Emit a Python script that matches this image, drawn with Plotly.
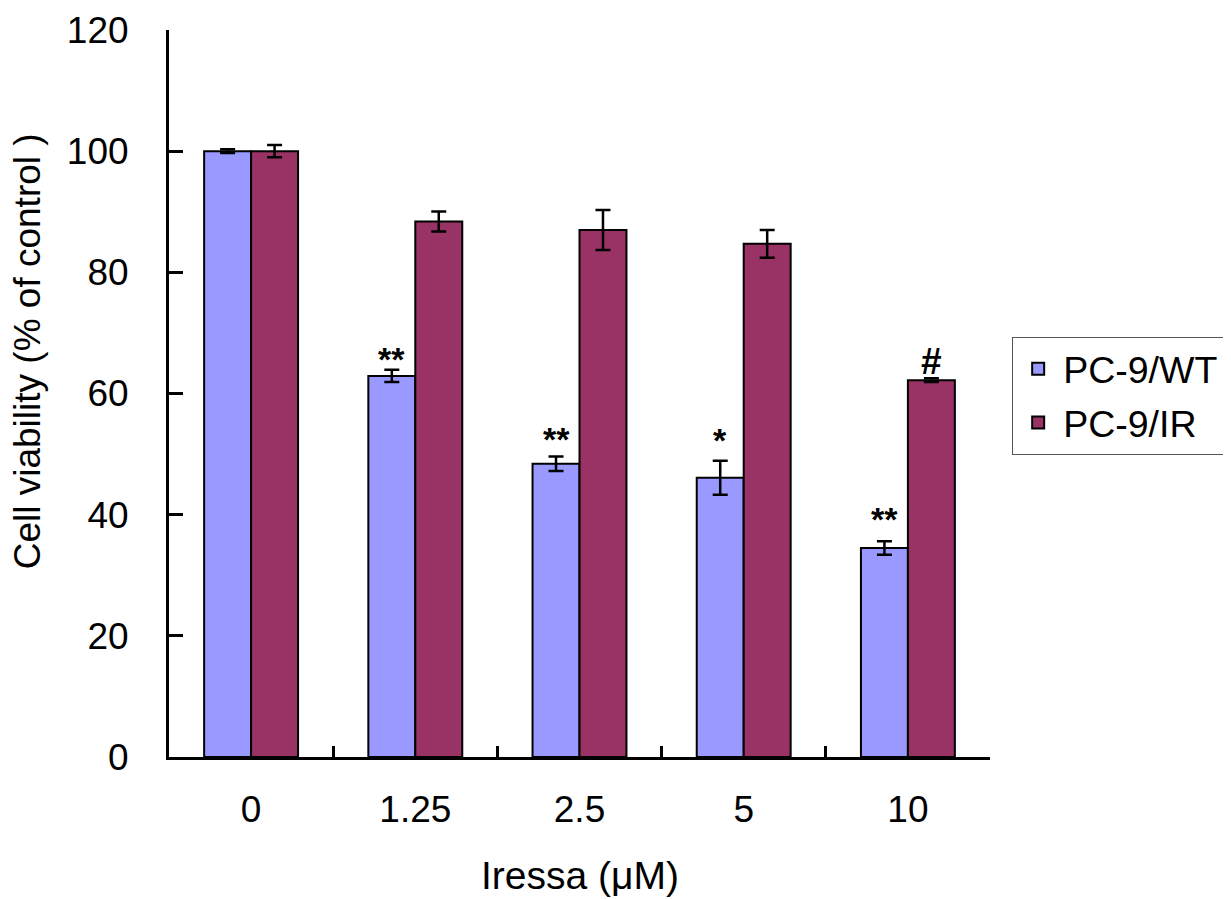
import plotly.graph_objects as go

# ---- data ----
doses = ["0", "1.25", "2.5", "5", "10"]
wt_values = [100.0, 62.9, 48.4, 46.1, 34.5]
wt_errors = [0.3, 1.0, 1.2, 2.8, 1.1]
ir_values = [100.0, 88.4, 87.0, 84.7, 62.2]
ir_errors = [1.0, 1.65, 3.3, 2.3, 0.3]

wt_marks = ["", "**", "**", "*", "**"]
wt_mark_y = [None, 65.7, 52.5, 52.3, 39.3]
ir_marks = ["", "", "", "", "#"]
ir_mark_y = [None, None, None, None, 65.3]

y_ticks = [0, 20, 40, 60, 80, 100, 120]

FONT = "Liberation Sans, Arial, sans-serif"
WT_COLOR = "#9999FF"
IR_COLOR = "#993366"

fig = go.Figure()
fig.add_trace(go.Bar(
    name="PC-9/WT", x=doses, y=wt_values, legendgroup="wt",
    marker=dict(color=WT_COLOR, line=dict(color="black", width=2)),
    error_y=dict(type="data", array=wt_errors, visible=True,
                 color="black", thickness=2.5, width=7.5),
))
fig.add_trace(go.Bar(
    name="PC-9/IR", x=doses, y=ir_values, legendgroup="ir",
    marker=dict(color=IR_COLOR, line=dict(color="black", width=2)),
    error_y=dict(type="data", array=ir_errors, visible=True,
                 color="black", thickness=2.5, width=7.5),
))

annotations = []
for i, (m, yy) in enumerate(zip(wt_marks, wt_mark_y)):
    if m:
        annotations.append(dict(x=i, y=yy, xref="x", yref="y", text=f"<b>{m}</b>",
                                showarrow=False, xshift=-23.5, yanchor="middle",
                                font=dict(family=FONT, size=34, color="black")))
for i, (m, yy) in enumerate(zip(ir_marks, ir_mark_y)):
    if m:
        annotations.append(dict(x=i, y=yy, xref="x", yref="y", text=f"<b>{m}</b>",
                                showarrow=False, xshift=23.5, yanchor="middle",
                                font=dict(family=FONT, size=37, color="black")))

# axis titles placed as annotations (paper coordinates)
annotations.append(dict(x=-0.173, y=0.558, xref="paper", yref="paper",
                        text="Cell viability (% of control )", textangle=-90,
                        showarrow=False, xanchor="center", yanchor="middle",
                        font=dict(family=FONT, size=37, color="black")))
annotations.append(dict(x=0.5, y=-0.1625, xref="paper", yref="paper",
                        text="Iressa (μM)",
                        showarrow=False, xanchor="center", yanchor="middle",
                        font=dict(family=FONT, size=39, color="black")))

# the page body adds an 8px offset, so the figure is 8px smaller on each axis
fig.update_layout(
    width=1223, height=891,
    margin=dict(l=161, r=241, t=22, b=142, autoexpand=False),
    paper_bgcolor="white", plot_bgcolor="white",
    barmode="group", bargap=0.428, bargroupgap=0,
    font=dict(family=FONT, color="black"),
    showlegend=True,
    legend=dict(x=1.027, y=0.578, xanchor="left", yanchor="top",
                bordercolor="#555555", borderwidth=1, bgcolor="white",
                font=dict(family=FONT, size=37.5, color="black"),
                traceorder="grouped", tracegroupgap=2,
                itemwidth=40, itemsizing="constant"),
    annotations=annotations,
)
fig.update_xaxes(
    type="category", range=[-0.5, len(doses) - 0.5], showline=True,
    linecolor="black", linewidth=3, automargin=False,
    ticks="inside", tickson="boundaries", ticklen=11, tickwidth=3, tickcolor="black",
    tickfont=dict(family=FONT, size=37, color="black"), tickangle=0,
    ticklabelstandoff=18,
    showgrid=False, zeroline=False,
)
fig.update_yaxes(
    range=[0, 120], tickvals=y_ticks, showline=True, linecolor="black", linewidth=3,
    automargin=False,
    ticks="inside", ticklen=14, tickwidth=3, tickcolor="black",
    tickfont=dict(family=FONT, size=37, color="black"),
    ticklabelstandoff=30,
    showgrid=False, zeroline=False,
)

fig.write_html("out.html")
